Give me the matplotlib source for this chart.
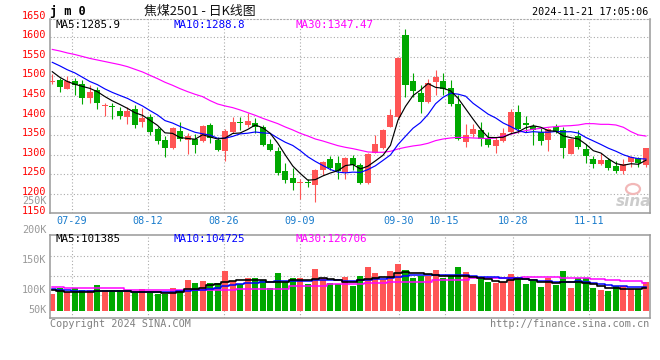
import matplotlib
matplotlib.use('Agg')
import matplotlib.pyplot as plt
import matplotlib.transforms as mtransforms
from matplotlib.patches import Ellipse

# ---------------- data ----------------
dates = ['07-24','07-25','07-26','07-29','07-30','07-31',
         '08-01','08-02','08-05','08-06','08-07','08-08','08-09','08-12','08-13','08-14','08-15','08-16',
         '08-19','08-20','08-21','08-22','08-23','08-26','08-27','08-28','08-29','08-30',
         '09-02','09-03','09-04','09-05','09-06','09-09','09-10','09-11','09-12','09-13',
         '09-18','09-19','09-20','09-23','09-24','09-25','09-26','09-27','09-30',
         '10-08','10-09','10-10','10-11','10-14','10-15','10-16','10-17','10-18',
         '10-21','10-22','10-23','10-24','10-25','10-28','10-29','10-30','10-31',
         '11-01','11-04','11-05','11-06','11-07','11-08','11-11','11-12','11-13','11-14','11-15',
         '11-18','11-19','11-20','11-21']

tick_dates = ['07-29', '08-12', '08-26', '09-09', '09-30', '10-15', '10-28', '11-11']

opens = [1485.8,1490.9,1467.9,1488.3,1480.7,1445.7,1465.3,1423.6,1424.4,1411.6,
         1397.2,1416.7,1384.4,1395.4,1365.6,1337.5,1316.2,1360.5,1337.5,1340.0,
         1335.0,1375.8,1337.5,1310.2,1358.8,1382.7,1375.8,1380.0,1369.9,1327.3,
         1310.2,1258.2,1239.5,1226.7,1230.1,1222.4,1260.8,1288.9,1279.5,1256.5,
         1292.3,1273.6,1226.7,1305.1,1316.2,1371.6,1397.2,1606.0,1488.3,1458.5,
         1435.5,1486.6,1488.3,1470.4,1429.5,1333.2,1352.8,1363.3,1341.8,1323.0,
         1335.8,1358.8,1409.9,1380.0,1373.3,1358.8,1337.5,1371.6,1363.3,1301.7,
         1347.7,1314.5,1288.9,1275.3,1286.4,1271.9,1259.1,1282.1,1290.6,1273.6]
highs = [1505.4,1496.9,1502.0,1495.0,1490.9,1478.1,1473.9,1433.0,1433.0,1421.0,
         1421.9,1427.0,1418.5,1404.0,1371.6,1347.7,1371.6,1382.7,1354.5,1352.8,
         1376.7,1380.0,1346.0,1365.6,1395.4,1397.2,1405.7,1394.6,1375.8,1340.0,
         1320.4,1277.8,1266.8,1237.8,1236.9,1262.5,1283.8,1297.4,1296.6,1294.9,
         1299.1,1279.5,1303.4,1350.3,1364.8,1416.8,1548.9,1620.5,1509.7,1478.1,
         1492.6,1516.5,1508.0,1491.0,1452.6,1377.5,1377.5,1382.7,1357.0,1344.3,
         1369.0,1416.8,1427.0,1398.9,1378.4,1369.0,1369.0,1377.5,1371.6,1341.8,
         1363.3,1327.3,1297.4,1305.1,1292.3,1283.8,1288.9,1296.6,1294.9,1317.9]
lows = [1479.8,1461.1,1467.0,1452.6,1430.4,1433.0,1416.8,1399.7,1392.0,1390.3,
        1378.4,1369.0,1371.6,1350.3,1326.4,1294.9,1314.5,1335.0,1301.7,1305.0,
        1331.5,1330.7,1310.2,1283.8,1354.5,1363.0,1371.6,1354.5,1322.0,1310.2,
        1248.0,1226.7,1209.6,1186.6,1218.2,1179.8,1248.0,1260.8,1236.9,1237.8,
        1260.8,1225.0,1225.9,1303.4,1313.6,1369.9,1394.6,1448.3,1448.3,1407.4,
        1433.0,1452.6,1452.6,1424.4,1337.5,1320.4,1344.3,1323.0,1318.7,1303.4,
        1333.2,1356.2,1354.5,1357.0,1324.7,1324.7,1310.2,1354.5,1292.3,1300.8,
        1313.6,1277.8,1266.8,1273.6,1260.8,1254.0,1249.7,1269.3,1267.7,1269.3]
closes = [1487.4,1473.9,1488.3,1478.1,1445.7,1461.1,1431.2,1426.1,1422.7,1399.7,
          1411.6,1375.8,1392.9,1358.8,1335.0,1316.2,1369.0,1339.2,1347.7,1324.7,
          1373.3,1341.8,1312.0,1360.5,1382.7,1380.0,1386.1,1369.9,1324.7,1312.0,
          1254.0,1235.2,1228.4,1229.3,1226.7,1260.8,1282.1,1266.8,1258.2,1292.3,
          1273.6,1226.7,1301.7,1326.4,1363.3,1401.4,1548.0,1478.1,1463.6,1434.7,
          1484.1,1499.4,1467.0,1430.4,1339.2,1350.3,1365.6,1340.0,1324.7,1337.5,
          1354.5,1409.9,1364.8,1376.7,1363.3,1335.8,1365.6,1358.8,1316.2,1340.0,
          1320.4,1297.4,1276.1,1286.4,1266.8,1259.1,1276.1,1294.9,1279.5,1317.9]

ma5 = [1512.0,1497.7,1487.0,1480.0,1474.5,1469.4,1460.9,1448.4,1437.4,1428.2,
       1418.3,1407.2,1400.5,1387.8,1374.8,1355.7,1354.4,1343.6,1341.4,1339.4,
       1350.8,1345.3,1339.9,1342.5,1354.1,1355.4,1364.3,1375.8,1368.7,1354.5,
       1329.3,1299.2,1270.9,1251.8,1234.7,1236.1,1245.5,1253.1,1258.9,1272.0,
       1274.6,1263.5,1270.5,1284.1,1298.3,1323.9,1388.2,1423.4,1450.9,1465.2,
       1481.7,1472.0,1469.8,1463.1,1444.0,1417.3,1390.5,1365.1,1344.0,1343.6,
       1344.5,1353.3,1358.3,1368.7,1373.8,1370.1,1361.2,1360.0,1347.9,1343.3,
       1340.2,1326.6,1310.0,1304.1,1289.4,1277.2,1272.9,1276.7,1275.3,1285.9]
ma10 = [1536.0,1527.0,1517.0,1509.0,1498.0,1487.0,1479.0,1468.0,1459.0,1451.3,
        1443.8,1434.0,1424.5,1412.6,1401.5,1387.0,1380.8,1372.1,1364.6,1357.1,
        1353.3,1349.9,1341.8,1341.9,1346.7,1353.1,1354.8,1357.9,1355.6,1354.3,
        1342.4,1331.7,1323.4,1310.2,1294.6,1282.7,1272.3,1262.0,1255.4,1253.4,
        1255.3,1254.5,1261.8,1271.5,1285.2,1299.3,1325.8,1347.0,1367.5,1381.8,
        1402.8,1430.1,1446.6,1457.0,1454.6,1449.5,1431.2,1417.4,1403.5,1393.8,
        1380.9,1371.9,1361.7,1356.3,1358.7,1357.3,1357.3,1359.2,1358.3,1358.6,
        1355.2,1343.9,1335.0,1326.0,1316.4,1308.7,1299.7,1293.3,1289.7,1288.8]
ma30 = [1569.0,1565.0,1560.0,1556.0,1551.0,1546.0,1542.0,1538.0,1534.0,1530.0,
        1525.0,1518.2,1511.4,1502.8,1494.3,1485.0,1477.3,1468.7,1461.1,1454.3,
        1448.3,1438.1,1429.5,1424.4,1420.2,1414.2,1407.4,1400.6,1392.9,1386.1,
        1379.3,1370.7,1363.1,1354.5,1347.7,1340.0,1334.9,1328.9,1323.0,1318.7,
        1315.3,1311.1,1306.8,1306.0,1306.0,1308.5,1314.5,1318.7,1322.2,1324.7,
        1329.0,1335.8,1340.0,1342.6,1344.3,1343.5,1342.6,1341.8,1340.9,1342.6,
        1347.7,1352.0,1357.1,1361.4,1364.8,1367.3,1369.9,1371.6,1373.3,1374.1,
        1375.8,1379.2,1379.2,1377.5,1377.5,1375.8,1369.9,1358.8,1350.3,1347.47]

volumes = [75000,100000,82000,100000,91000,91000,116000,93000,93000,93000,
           89000,86000,98000,78000,75000,77000,102000,89000,138000,125000,
           134000,125000,123000,180000,135000,122000,147000,149000,138000,100000,
           170000,131000,149000,149000,122000,188000,145000,125000,118000,153000,
           113000,158000,198000,171000,138000,179000,210000,183000,149000,158000,
           156000,183000,145000,156000,198000,174000,120000,145000,131000,125000,
           127000,165000,153000,120000,135000,108000,145000,116000,179000,104000,
           145000,145000,104000,93000,89000,111000,111000,97000,99000,127000]
vol_ma5 = [91500,88500,84000,84000,84000,85500,88500,90000,90000,88500,
           87000,84000,84000,84000,82500,81000,81000,82500,96000,97500,
           103500,115500,120000,130500,133500,136500,139500,139500,136500,130500,
           127500,127500,136500,139500,139500,142500,145500,141000,136500,130500,
           130500,136500,141000,148500,151500,153000,168000,172500,169500,168000,
           165000,160500,157500,156000,156000,157500,151500,148500,142500,133500,
           130500,136500,142500,141000,136500,130500,127500,123000,127500,130500,
           130500,124500,121500,112500,103500,100500,97500,97500,97500,101385]
vol_ma10 = [97500,94500,91500,90000,90000,90000,90000,88500,88500,88500,
            87000,85500,85500,85500,84000,82500,84000,87000,88500,91500,
            94500,99000,103500,109500,114000,118500,123000,126000,129000,130500,
            132000,133500,133500,135000,135000,136500,136500,138000,136500,133500,
            132000,136500,139500,141000,142500,145500,153000,157500,160500,160500,
            160500,162000,162000,160500,160500,159000,156000,153000,151500,150000,
            148500,148500,145500,142500,138000,133500,132000,130500,130500,130500,
            132000,130500,126000,118500,115500,111000,109500,106500,105000,104725]
vol_ma30 = [106500,105000,100500,100500,100500,100500,100500,100500,100500,100500,
            93000,93000,93000,93000,93000,93000,93000,93000,93000,94500,
            94500,94500,94500,94500,94500,97500,97500,97500,97500,97500,
            97500,97500,112500,112500,112500,112500,112500,120000,120000,120000,
            120000,120000,124500,124500,124500,130500,130500,130500,130500,130500,
            130500,136500,136500,136500,136500,136500,147000,147000,147000,147000,
            147000,147000,147000,151500,151500,151500,151500,151500,148500,148500,
            148500,148500,144000,144000,139500,139500,132000,132000,132000,126706]

# ---------------- style ----------------
RED = '#ff5555'
GREEN = '#00a800'
GRID = '#aaaaaa'
FRAME = '#999999'
DATE_BLUE = '#1a7ccc'
MONO = ['DejaVu Sans Mono']
plt.rcParams['font.family'] = MONO

W, H = 660, 360
def fx(px):
    return px / W
def fy(py):
    return 1 - py / H

fig = plt.figure(figsize=(6.6, 3.6), dpi=100)
fig.patch.set_facecolor('white')

ax = fig.add_axes([fx(50), fy(213.3), fx(649.5) - fx(50), fy(19) - fy(213.3)])
axv = fig.add_axes([fx(50), fy(317.7), fx(649.5) - fx(50), fy(234.5) - fy(317.7)])

x = list(range(len(dates)))
colors = [RED if c >= o else GREEN for o, c in zip(opens, closes)]
XLIM = (-0.306, 79.47)

for a in (ax, axv):
    a.set_xlim(*XLIM)
    a.set_xticks([])
    a.set_yticks([])
    for s in a.spines.values():
        s.set_color(FRAME)
        s.set_linewidth(1.1)

ax.set_ylim(1150, 1646.8)
axv.set_ylim(-31500, 343000)
ax.spines['top'].set_linestyle((0, (1, 2)))
ax.spines['top'].set_color(GRID)
ax.spines['top'].set_linewidth(0.8)

# gridlines
grid_pos = [dates.index(d) * 1.0121 - 0.436 for d in tick_dates]
dot = (0, (1, 2))
for g in grid_pos:
    ax.axvline(g, color=GRID, lw=0.8, ls=dot, zorder=0)
    axv.axvline(g, color=GRID, lw=0.8, ls=dot, zorder=0)
price_levels = [1150, 1200, 1250, 1300, 1350, 1400, 1450, 1500, 1550, 1600, 1650]
for p in price_levels[1:-1]:
    ax.axhline(p, color=GRID, lw=0.8, ls=dot, zorder=0)
for v in [69300, 158400, 248400]:
    axv.axhline(v, color=GRID, lw=0.8, ls=dot, zorder=0)

# candles
bodies_low = [min(o, c) for o, c in zip(opens, closes)]
bodies_h = [max(abs(c - o), 2.6) for o, c in zip(opens, closes)]
ax.vlines(x, lows, highs, colors=colors, lw=0.8, zorder=2)
ax.bar(x, bodies_h, bottom=bodies_low, width=0.8, color=colors, lw=0, zorder=3)

ax.plot(x, ma30, color='#ff00ff', lw=0.85, zorder=4)
ax.plot(x, ma10, color='#0000ff', lw=0.85, zorder=5)
ax.plot(x, ma5, color='#000000', lw=0.85, zorder=6)

# volume
axv.bar(x, volumes, width=0.8, color=colors, lw=0, zorder=2)
axv.plot(x, vol_ma30, color='#ff00ff', lw=1.1, drawstyle='steps-mid', zorder=4)
axv.plot(x, vol_ma10, color='#0000ff', lw=1.1, drawstyle='steps-mid', zorder=5)
axv.plot(x, vol_ma5, color='#000000', lw=1.2, drawstyle='steps-mid', zorder=6)

# price axis labels
lab_tr = mtransforms.offset_copy(
    mtransforms.blended_transform_factory(fig.transFigure, ax.transData),
    fig=fig, x=0, y=2, units='dots')
for p in price_levels:
    ax.text(fx(46.5), p, str(p), transform=lab_tr, ha='right', va='center',
            color='#ff0000', fontsize=7.3, clip_on=False)

# date labels
date_tr = mtransforms.blended_transform_factory(ax.transData, fig.transFigure)
for d, g in zip(tick_dates, grid_pos):
    ax.text(g, fy(221), d, transform=date_tr, ha='center', va='center',
            color=DATE_BLUE, fontsize=7.3, clip_on=False)

# volume axis labels
for txt, py in [('250K', 200.5), ('200K', 230), ('150K', 260), ('100K', 290.3), ('50K', 310.3)]:
    fig.text(fx(46.5), fy(py), txt, ha='right', va='center', color='#999999', fontsize=7.3)

# MA legends
for txt, px, col in [('MA5:1285.9', 55, '#000000'), ('MA10:1288.8', 174, '#0000ff'),
                     ('MA30:1347.47', 295, '#ff00ff')]:
    fig.text(fx(px), fy(24.5), txt, ha='left', va='center', color=col, fontsize=7.8)
for txt, px, col in [('MA5:101385', 55, '#000000'), ('MA10:104725', 174, '#0000ff'),
                     ('MA30:126706', 295, '#ff00ff')]:
    fig.text(fx(px), fy(239.5), txt, ha='left', va='center', color=col, fontsize=7.8)

# header
fig.text(fx(50.5), fy(11.5), 'j m 0', ha='left', va='center', fontsize=8.6,
         fontweight='bold', color='#000000')
fig.text(fx(200), fy(11), '焦煤2501 - 日K线图', ha='center', va='center', fontsize=9.3,
         family=['Noto Sans CJK SC', 'DejaVu Sans'], color='#111111')
fig.text(fx(648.5), fy(12), '2024-11-21 17:05:06', ha='right', va='center',
         fontsize=7.3, color='#000000')

# footer
fig.text(fx(50), fy(324), 'Copyright 2024 SINA.COM', ha='left', va='center',
         fontsize=7.3, color='#808080')
fig.text(fx(649.5), fy(324), 'http://finance.sina.com.cn', ha='right', va='center',
         fontsize=7.3, color='#808080')

# sina watermark
fig.text(fx(634), fy(201), 'sina', ha='center', va='center', fontsize=11,
         fontweight='bold', style='italic', color='#cccccc',
         family=['DejaVu Sans'])
fig.patches.append(Ellipse((fx(633), fy(189)), fx(14), 10 / H, transform=fig.transFigure,
                           facecolor='none', edgecolor='#f2b8b8', lw=1.6))

fig.savefig('out.png', dpi=100, facecolor='white')
